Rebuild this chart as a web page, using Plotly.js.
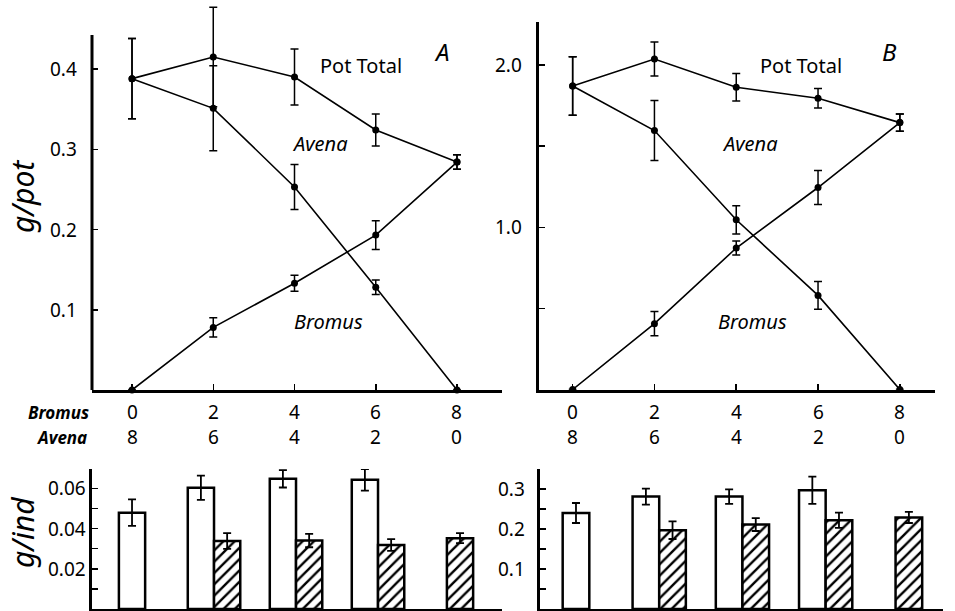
<!DOCTYPE html>
<html>
<head>
<meta charset="utf-8">
<script src="https://cdn.plot.ly/plotly-3.0.1.min.js"></script>
<style>html,body{margin:0;padding:0;background:#fff;}#chart{width:955px;height:611px;}</style>
</head>
<body>
<div id="chart"></div>
<script>
// ---- data ----
const bromusCount = [0, 2, 4, 6, 8];
const avenaCount  = [8, 6, 4, 2, 0];

// Panel A, g/pot
const potTotalA    = [0.388, 0.415, 0.390, 0.324, 0.284];
const potTotalAErr = [0.050, 0.062, 0.035, 0.020, 0.009];
const avenaA       = [0.388, 0.351, 0.253, 0.128, 0.000];
const avenaAErr    = [0.050, 0.053, 0.028, 0.009, 0.000];
const bromusA      = [0.000, 0.078, 0.133, 0.193, 0.284];
const bromusAErr   = [0.000, 0.012, 0.010, 0.018, 0.009];

// Panel B, g/pot
const potTotalB    = [1.871, 2.037, 1.863, 1.795, 1.645];
const potTotalBErr = [0.180, 0.105, 0.085, 0.060, 0.053];
const avenaB       = [1.871, 1.596, 1.046, 0.580, 0.000];
const avenaBErr    = [0.180, 0.185, 0.087, 0.085, 0.000];
const bromusB      = [0.000, 0.406, 0.872, 1.245, 1.645];
const bromusBErr   = [0.000, 0.074, 0.043, 0.105, 0.053];

// g/ind bars (Avena = open bars, Bromus = hatched bars)
const avenaBarX     = [0, 2, 4, 6];
const bromusBarX    = [2, 4, 6, 8];
const avenaIndA     = [0.0479, 0.0603, 0.0647, 0.0642];
const avenaIndAErr  = [0.0066, 0.0060, 0.0043, 0.0054];
const bromusIndA    = [0.0338, 0.0340, 0.0318, 0.0352];
const bromusIndAErr = [0.0039, 0.0033, 0.0029, 0.0025];
const avenaIndB     = [0.240, 0.281, 0.281, 0.297];
const avenaIndBErr  = [0.025, 0.020, 0.018, 0.034];
const bromusIndB    = [0.197, 0.211, 0.222, 0.229];
const bromusIndBErr = [0.022, 0.016, 0.019, 0.014];

// tick labels
const yTickValsA = [0.1, 0.2, 0.3, 0.4];
const yTickTextA = ['0.1', '0.2', '0.3', '0.4'];
const yTickValsB = [0.5, 1.0, 1.5, 2.0];
const yTickTextB = ['', '1.0', '', '2.0'];
const yTickValsA2 = [0.01, 0.02, 0.03, 0.04, 0.05, 0.06];
const yTickTextA2 = ['', '0.02', '', '0.04', '', '0.06'];
const yTickValsB2 = [0.05, 0.10, 0.15, 0.20, 0.25, 0.30];
const yTickTextB2 = ['', '0.1', '', '0.2', '', '0.3'];

// ---- helpers ----
const W = 955, H = 611;
const px = v => v / W;
const py = v => 1 - v / H;
const FONT = 'Noto Sans, Liberation Sans, sans-serif';

function lineTrace(y, err, xa, ya) {
  return {
    type: 'scatter', mode: 'lines+markers', x: bromusCount, y: y,
    xaxis: xa, yaxis: ya,
    line: {color: '#000', width: 1.6},
    marker: {color: '#000', size: 7},
    error_y: {type: 'data', array: err, visible: true, color: '#000', thickness: 1.5, width: 4},
    hoverinfo: 'skip', cliponaxis: false
  };
}

const BW = 0.64;
function barTrace(x, y, err, xa, ya, hatched, partnerX) {
  const offs = x.map(v => {
    const shared = partnerX.includes(v);
    if (!shared) return -BW / 2;
    return hatched ? 0 : -BW;
  });
  const t = {
    type: 'bar', x: x, y: y, xaxis: xa, yaxis: ya,
    width: BW, offset: offs,
    marker: {color: '#fff', line: {color: '#000', width: 2.5}},
    error_y: {type: 'data', array: err, visible: true, color: '#000', thickness: 1.8, width: 4},
    hoverinfo: 'skip'
  };
  if (hatched) {
    t.marker.pattern = {shape: '/', fgcolor: '#000', bgcolor: '#fff', size: 8, solidity: 0.3, fillmode: 'replace'};
  }
  return t;
}

const data = [
  lineTrace(potTotalA, potTotalAErr, 'x', 'y'),
  lineTrace(avenaA, avenaAErr, 'x', 'y'),
  lineTrace(bromusA, bromusAErr, 'x', 'y'),
  lineTrace(potTotalB, potTotalBErr, 'x2', 'y2'),
  lineTrace(avenaB, avenaBErr, 'x2', 'y2'),
  lineTrace(bromusB, bromusBErr, 'x2', 'y2'),
  barTrace(avenaBarX, avenaIndA, avenaIndAErr, 'x3', 'y3', false, bromusBarX),
  barTrace(bromusBarX, bromusIndA, bromusIndAErr, 'x3', 'y3', true, avenaBarX),
  barTrace(avenaBarX, avenaIndB, avenaIndBErr, 'x4', 'y4', false, bromusBarX),
  barTrace(bromusBarX, bromusIndB, bromusIndBErr, 'x4', 'y4', true, avenaBarX)
];

const baseAxis = {
  showline: true, linecolor: '#000', linewidth: 3, showgrid: false, zeroline: false,
  ticks: 'inside', tickcolor: '#000', tickwidth: 1.5, ticklen: 6,
  showticklabels: false, fixedrange: true
};

function xAx(domain, range, anchor, ticks) {
  return Object.assign({}, baseAxis, {
    domain: domain, range: range, anchor: anchor,
    tickmode: 'array', tickvals: ticks ? bromusCount : [],
    ticks: ticks ? 'inside' : ''
  });
}
function yAx(domain, range, anchor, vals, extra) {
  return Object.assign({}, baseAxis, {
    domain: domain, range: range, anchor: anchor,
    tickmode: 'array', tickvals: vals
  }, extra || {});
}

const annotations = [];
function ann(x, y, text, size, opts) {
  annotations.push(Object.assign({
    xref: 'paper', yref: 'paper', x: px(x), y: py(y), text: text, showarrow: false,
    xanchor: 'center', yanchor: 'middle',
    font: {family: FONT, size: size, color: '#000'}
  }, opts || {}));
}

// y tick labels (drawn at the axis values)
function yLabels(vals, text, yref, rightPx) {
  vals.forEach((v, i) => {
    if (!text[i]) return;
    annotations.push({xref: 'paper', yref: yref, x: px(rightPx), y: v, text: text[i], showarrow: false,
      xanchor: 'right', yanchor: 'middle', font: {family: FONT, size: 19, color: '#000'}});
  });
}
yLabels(yTickValsA, yTickTextA, 'y', 79);
yLabels(yTickValsB, yTickTextB, 'y2', 524);
yLabels(yTickValsA2, yTickTextA2, 'y3', 88);
yLabels(yTickValsB2, yTickTextB2, 'y4', 527);

// category rows
bromusCount.forEach((v, i) => {
  ['x', 'x2'].forEach(xr => {
    annotations.push({xref: xr, yref: 'paper', x: v, y: py(412), text: String(v), showarrow: false,
      xanchor: 'center', yanchor: 'middle', font: {family: FONT, size: 19, color: '#000'}});
    annotations.push({xref: xr, yref: 'paper', x: v, y: py(437), text: String(avenaCount[i]), showarrow: false,
      xanchor: 'center', yanchor: 'middle', font: {family: FONT, size: 19, color: '#000'}});
  });
});
ann(91, 412, '<b><i>Bromus</i></b>', 17, {xanchor: 'right'});
ann(89, 437, '<b><i>Avena</i></b>', 17, {xanchor: 'right'});

// panel labels
ann(361, 65, 'Pot Total', 20);
ann(442, 51, '<i>A</i>', 24);
ann(320, 143, '<i>Avena</i>', 20);
ann(328, 321, '<i>Bromus</i>', 20);
ann(801, 65, 'Pot Total', 20);
ann(889, 51, '<i>B</i>', 24);
ann(750, 143, '<i>Avena</i>', 20);
ann(752, 321, '<i>Bromus</i>', 20);

// axis titles
ann(22, 197, '<i>g/pot</i>', 30, {textangle: -90});
ann(22, 533, '<i>g/ind</i>', 30, {textangle: -90});

// panel A: plotting area extends above the visible axis line so the tall error bar is not clipped
const yTopA = 0.4424;
const shapes = [
  {type: 'line', xref: 'x domain', yref: 'y', x0: 0, x1: 0, y0: 0, y1: yTopA,
   line: {color: '#000', width: 3}}
];

const layout = {
  width: W, height: H,
  margin: {l: 0, r: 0, t: 0, b: 0},
  paper_bgcolor: '#fff', plot_bgcolor: 'rgba(0,0,0,0)',
  showlegend: false, barmode: 'overlay',
  font: {family: FONT, color: '#000'},
  xaxis:  xAx([px(92), px(502)], [-0.985, 9.108], 'y', true),
  yaxis:  yAx([py(390), py(3)], [0, (390 - 3) / 802.5], 'x', yTickValsA, {showline: false}),
  xaxis2: xAx([px(538.5), px(935)], [-0.835, 8.86], 'y2', true),
  yaxis2: yAx([py(389.5), py(21.7)], [0, 2.267], 'x2', yTickValsB),
  xaxis3: xAx([px(92), px(502)], [-0.976, 9.024], 'y3', false),
  yaxis3: yAx([py(609), py(469)], [0, 0.0696], 'x3', yTickValsA2),
  xaxis4: xAx([px(540), px(943)], [-0.865, 8.82], 'y4', false),
  yaxis4: yAx([py(609), py(469)], [0, 0.35], 'x4', yTickValsB2),
  shapes: shapes,
  annotations: annotations
};

Plotly.newPlot('chart', data, layout, {staticPlot: true, displayModeBar: false});
</script>
</body>
</html>
